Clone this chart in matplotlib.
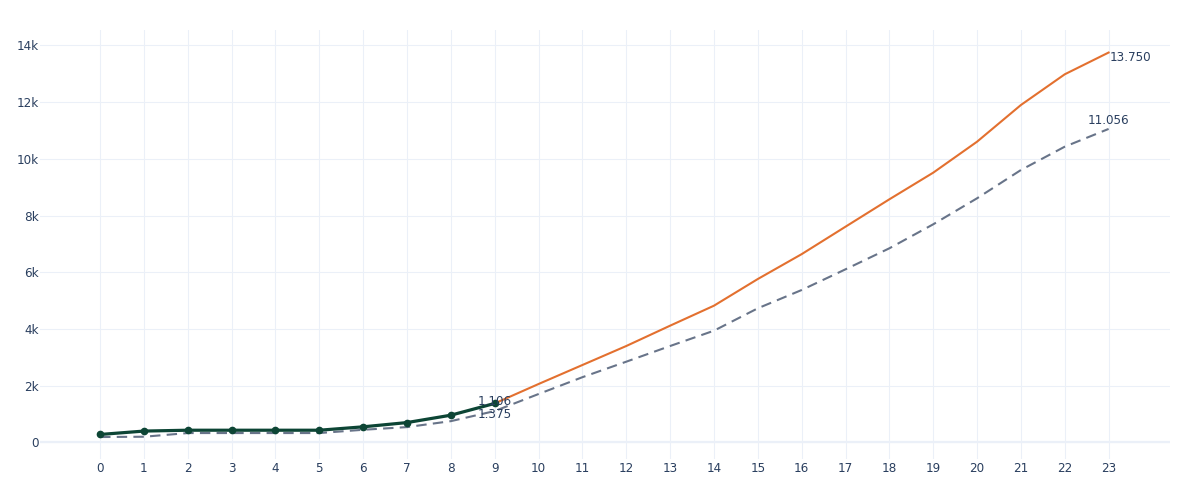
import numpy as np
import matplotlib.pyplot as plt
from matplotlib.ticker import FixedLocator

# 数据 从图上读出
hours = list(range(24))
actual_x = list(range(10))
actual = [280, 400, 430, 430, 430, 430, 550, 700, 960, 1375]
forecast_x = list(range(9, 24))
forecast = [1375, 2060, 2730, 3400, 4117, 4822, 5763, 6640, 7608, 8574,
            9513, 10606, 11900, 12983, 13750]
baseline = [190, 200, 330, 330, 330, 330, 446, 540, 750, 1106, 1707, 2300,
            2847, 3400, 3940, 4730, 5375, 6105, 6846, 7692, 8610, 9607,
            10430, 11056]
y_ticks = [0, 2000, 4000, 6000, 8000, 10000, 12000, 14000]
y_labels = ['0', '2k', '4k', '6k', '8k', '10k', '12k', '14k']

plt.rcParams['font.family'] = ['DejaVu Sans']
txt = '#2a3f5f'
grid = '#ebf0f8'
fs = 8.64

def fmt(v):
    return f'{v:,}'.replace(',', '.')

fig = plt.figure(figsize=(12, 5), dpi=100)
ax = fig.add_axes([40/1200, 41/500, 1130/1200, 429/500])

ax.plot(hours, baseline, color='#687489', lw=1.5, dashes=(5, 3), zorder=3)
ax.plot(forecast_x, forecast, color='#e3702f', lw=1.5, zorder=4)
ax.plot(actual_x, actual, color='#0d4535', lw=2.3, marker='o', ms=4.5, zorder=5)

# 数值标签 (偏移单位 pt) 两个x=9的标签稍微分开一点
ax.annotate(fmt(baseline[9]), (9, baseline[9]), xytext=(0, 6.6), textcoords='offset points',
            ha='center', va='center', fontsize=fs, color=txt, zorder=6)
ax.annotate(fmt(actual[-1]), (9, actual[-1]), xytext=(0, -7.8), textcoords='offset points',
            ha='center', va='center', fontsize=fs, color=txt, zorder=6)
ax.annotate(fmt(baseline[-1]), (23, baseline[-1]), xytext=(0, 6.4), textcoords='offset points',
            ha='center', va='center', fontsize=fs, color=txt, zorder=6)
ax.annotate(fmt(forecast[-1]), (23, forecast[-1]), xytext=(1, -3.4), textcoords='offset points',
            ha='left', va='center', fontsize=fs, color=txt, zorder=6)

ax.set_xlim(-1.37, 24.4)
ax.set_ylim(-585, 14545)
ax.xaxis.set_major_locator(FixedLocator(hours))
ax.set_xticklabels([str(h) for h in hours])
ax.set_yticks(y_ticks)
ax.set_yticklabels(y_labels)
ax.tick_params(length=0, labelsize=fs, labelcolor=txt)
ax.tick_params(axis='x', pad=2.5)
ax.tick_params(axis='y', pad=1)
ax.grid(True, color=grid, lw=0.75, zorder=0)
ax.axhline(0, color=grid, lw=1.6, zorder=1)
for s in ax.spines.values():
    s.set_visible(False)
ax.set_axisbelow(True)

fig.savefig('out.png', dpi=100, facecolor='white')
